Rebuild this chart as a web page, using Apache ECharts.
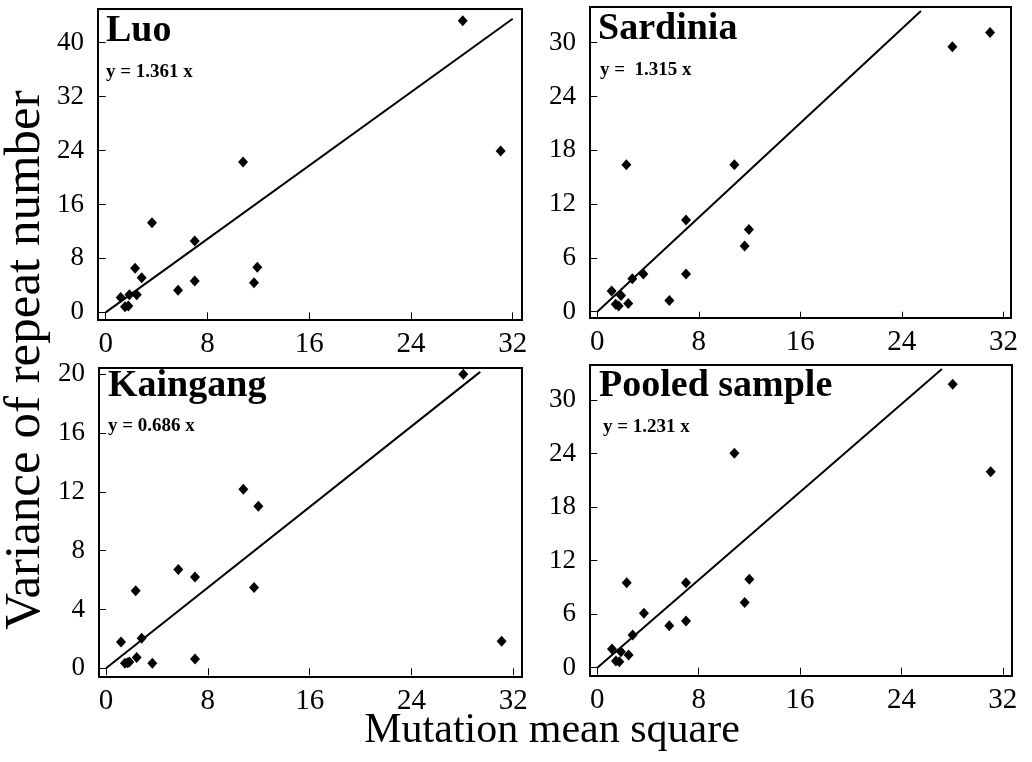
<!DOCTYPE html>
<html>
<head>
<meta charset="utf-8">
<script src="https://cdn.jsdelivr.net/npm/echarts@6/dist/echarts.min.js"></script>
<style>
  html, body { margin: 0; padding: 0; background: #fff; }
  #chart { width: 1032px; height: 762px; }
</style>
</head>
<body>
<div id="chart"></div>
<script>
// tick labels
const xTicks = [0, 8, 16, 24, 32];
const luoTicks = [0, 8, 16, 24, 32, 40];
const sardiniaTicks = [0, 6, 12, 18, 24, 30];
const kaingangTicks = [0, 4, 8, 12, 16, 20];
const pooledTicks = [0, 6, 12, 18, 24, 30];

// mutation mean square (x) and variance of repeat number (y), one point per locus
const luoX = [28.07, 31.05, 10.8, 3.64, 7.0, 2.31, 2.83, 11.92, 11.66, 7.0, 5.69, 2.44, 1.86, 1.18, 1.52, 1.78];
const luoY = [43.26, 23.93, 22.3, 13.3, 10.58, 6.53, 5.14, 6.67, 4.4, 4.65, 3.26, 2.62, 2.62, 2.18, 0.84, 0.94];

const sardiniaX = [27.98, 30.95, 10.8, 2.29, 6.99, 11.95, 11.61, 3.63, 6.99, 2.76, 1.13, 1.87, 5.68, 2.44, 1.45, 1.68];
const sardiniaY = [29.55, 31.15, 16.39, 16.39, 10.22, 9.18, 7.32, 4.2, 4.2, 3.68, 2.3, 1.82, 1.26, 0.93, 0.82, 0.63];

const kaingangX = [28.07, 31.08, 10.79, 11.97, 11.63, 5.68, 6.99, 2.33, 2.8, 1.18, 2.41, 6.99, 3.64, 1.49, 1.83, 1.7];
const kaingangY = [20.0, 1.84, 12.18, 11.02, 5.49, 6.73, 6.21, 5.28, 2.04, 1.79, 0.73, 0.63, 0.34, 0.34, 0.43, 0.38];

const pooledX = [28.05, 31.05, 10.82, 2.32, 7.0, 12.0, 11.63, 3.68, 5.68, 7.0, 2.79, 1.16, 1.87, 2.47, 1.47, 1.74];
const pooledY = [31.75, 21.96, 24.02, 9.53, 9.53, 9.9, 7.32, 6.09, 4.71, 5.23, 3.66, 2.09, 1.79, 1.42, 0.75, 0.67];

// regression through origin
const slopes = [1.361, 1.315, 0.686, 1.231];
const lineEnds = [32, 25.5, 29.4, 27.2];
const panelNames = ['Luo', 'Sardinia', 'Kaingang', 'Pooled sample'];
const equations = ['y = 1.361 x', 'y =  1.315 x', 'y = 0.686 x', 'y = 1.231 x'];

const FONT = '"Liberation Serif", "DejaVu Serif", serif';

const panels = [
  { xs: luoX, ys: luoY, yTicks: luoTicks, box: { left: 98, top: 9, width: 424, height: 311 },
    xr: [-0.605, 32.73], yr: [-1.14, 45.0], title: [106, 45], eq: [106, 78] },
  { xs: sardiniaX, ys: sardiniaY, yTicks: sardiniaTicks, box: { left: 590, top: 7, width: 421, height: 311 },
    xr: [-0.575, 32.6], yr: [-0.7, 33.98], title: [598, 43], eq: [600, 76] },
  { xs: kaingangX, ys: kaingangY, yTicks: kaingangTicks, box: { left: 99, top: 368, width: 423, height: 309 },
    xr: [-0.55, 32.68], yr: [-0.59, 20.43], title: [108, 400], eq: [108, 432] },
  { xs: pooledX, ys: pooledY, yTicks: pooledTicks, box: { left: 590, top: 365, width: 422, height: 311 },
    xr: [-0.576, 32.73], yr: [-0.93, 33.92], title: [599, 400], eq: [603, 433] }
];

const grid = [], xAxis = [], yAxis = [], series = [], graphic = [];

panels.forEach((p, i) => {
  grid.push({
    left: p.box.left, top: p.box.top, width: p.box.width, height: p.box.height,
    show: true, borderColor: '#000', borderWidth: 2, backgroundColor: 'transparent'
  });
  xAxis.push({
    type: 'value', gridIndex: i, min: p.xr[0], max: p.xr[1],
    axisLine: { show: false },
    splitLine: { show: false },
    axisTick: { show: true, inside: false, length: 7, customValues: xTicks, lineStyle: { color: '#000', width: 1 } },
    axisLabel: { customValues: xTicks, margin: 10, color: '#000', fontFamily: FONT, fontSize: 29 }
  });
  yAxis.push({
    type: 'value', gridIndex: i, min: p.yr[0], max: p.yr[1],
    axisLine: { show: false },
    splitLine: { show: false },
    axisTick: { show: true, inside: false, length: 8, customValues: p.yTicks, lineStyle: { color: '#000', width: 1 } },
    axisLabel: { customValues: p.yTicks, margin: 14, color: '#000', fontFamily: FONT, fontSize: 27 }
  });
  series.push({
    type: 'scatter', xAxisIndex: i, yAxisIndex: i,
    symbol: 'diamond', symbolSize: [10, 11],
    itemStyle: { color: '#000', opacity: 1 },
    data: p.xs.map((x, k) => [x, p.ys[k]]),
    z: 3
  });
  series.push({
    type: 'line', xAxisIndex: i, yAxisIndex: i,
    symbol: 'none', clip: true,
    lineStyle: { color: '#000', width: 2 },
    data: [[0, 0], [lineEnds[i], slopes[i] * lineEnds[i]]],
    z: 2
  });
  graphic.push({
    type: 'text', left: p.title[0], top: p.title[1] - 33,
    style: { text: panelNames[i], font: 'bold 38px ' + FONT, fill: '#000' }
  });
  graphic.push({
    type: 'text', left: p.eq[0], top: p.eq[1] - 15,
    style: { text: equations[i], font: 'bold 19px ' + FONT, fill: '#000' }
  });
});

// axis titles
graphic.push({
  type: 'text', x: 26, y: 360, rotation: Math.PI / 2,
  style: { text: 'Variance of repeat number', font: '51px ' + FONT, fill: '#000',
           align: 'center', verticalAlign: 'middle' }
});
graphic.push({
  type: 'text', x: 552, y: 731,
  style: { text: 'Mutation mean square', font: '42px ' + FONT, fill: '#000',
           align: 'center', verticalAlign: 'middle' }
});

const chart = echarts.init(document.getElementById('chart'), null, { renderer: 'canvas' });
chart.setOption({
  animation: false,
  backgroundColor: '#fff',
  grid, xAxis, yAxis, series, graphic
});
</script>
</body>
</html>
